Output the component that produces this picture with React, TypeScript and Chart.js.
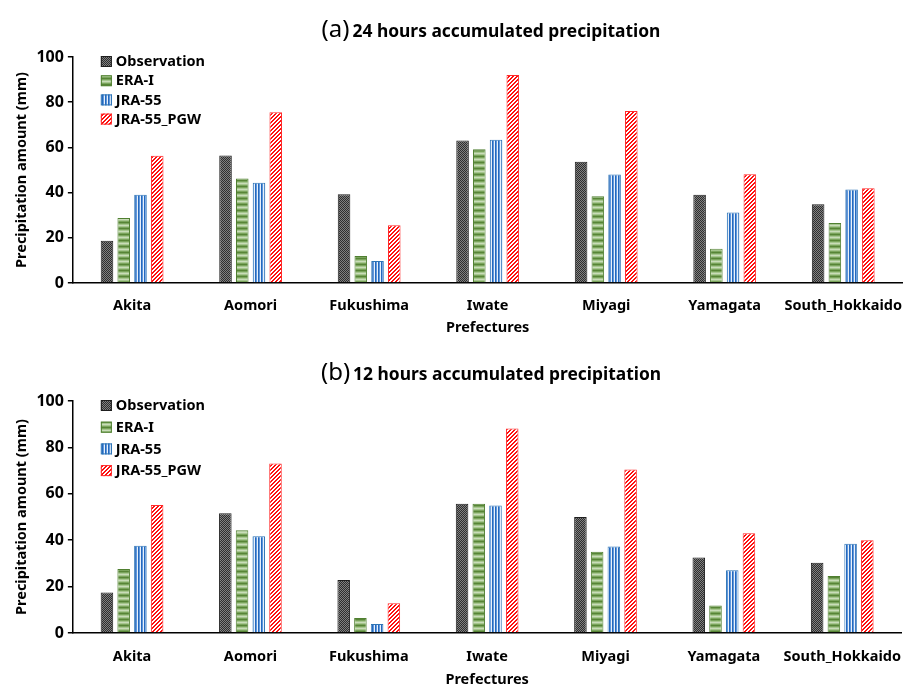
import { useEffect, useRef } from "react";
import { Chart, registerables } from "chart.js";

Chart.register(...registerables);

// Categories, series names and axis ticks
const prefectures = ["Akita", "Aomori", "Fukushima", "Iwate", "Miyagi", "Yamagata", "South_Hokkaido"];
const seriesNames = ["Observation", "ERA-I", "JRA-55", "JRA-55_PGW"];
const yTicks = [0, 20, 40, 60, 80, 100];

// (a) 24 hours accumulated precipitation (mm)
const obs24 = [18.7, 56.4, 39.3, 63.1, 53.7, 39.0, 34.9];
const era24 = [28.8, 46.2, 12.0, 59.2, 38.4, 15.1, 26.6];
const jra24 = [39.1, 44.4, 9.7, 63.4, 48.0, 31.2, 41.4];
const pgw24 = [56.3, 75.6, 25.6, 92.0, 76.1, 48.1, 41.9];

// (b) 12 hours accumulated precipitation (mm)
const obs12 = [17.5, 51.6, 22.8, 55.7, 50.0, 32.5, 30.3];
const era12 = [27.6, 44.3, 6.5, 55.7, 35.0, 11.8, 24.6];
const jra12 = [37.6, 41.7, 3.9, 55.0, 37.3, 27.0, 38.5];
const pgw12 = [55.2, 73.1, 12.8, 88.2, 70.5, 43.0, 40.0];

const FONT = '"Noto Sans", "DejaVu Sans", sans-serif';

function tile(w: number, h: number, paint: (x: number, y: number) => string) {
  const c = document.createElement("canvas");
  c.width = w;
  c.height = h;
  const g = c.getContext("2d")!;
  for (let y = 0; y < h; y++) {
    for (let x = 0; x < w; x++) {
      g.fillStyle = paint(x, y);
      g.fillRect(x, y, 1, 1);
    }
  }
  return c;
}

function makeFills(ctx: CanvasRenderingContext2D) {
  const checker = tile(2, 2, (x, y) => ((x + y) % 2 === 0 ? "#2e2e2e" : "#808080"));
  const eraRows = ["#578536", "#7aa45c", "#a6c68e", "#c9dcb9", "#a6c68e", "#7aa45c"];
  const hStripes = tile(1, 6, (_x, y) => eraRows[y]);
  const jraCols = ["#2468bd", "#5f98dc", "#e8f0fa"];
  const vStripes = tile(3, 1, (x) => jraCols[x]);
  const diag = tile(4, 4, (x, y) => ((x + y) % 4 < 2 ? "#ff0f0f" : "#ffffff"));
  return [
    { fill: ctx.createPattern(checker, "repeat")!, border: "#1e1e1e" },
    { fill: ctx.createPattern(hStripes, "repeat")!, border: "#4f7f30" },
    { fill: ctx.createPattern(vStripes, "repeat")!, border: "#2e75b6" },
    { fill: ctx.createPattern(diag, "repeat")!, border: "#ff2a2a" },
  ];
}

type PanelProps = {
  tag: string;
  heading: string;
  series: number[][];
  top: number;
  height: number;
  padTop: number;
  padBottom: number;
  xAxisHeight: number;
  xTickPad: number;
  legendStep: number;
};

function Panel(props: PanelProps) {
  const { tag, heading, series, top, height, padTop, padBottom, xAxisHeight, xTickPad, legendStep } = props;
  const ref = useRef<HTMLCanvasElement | null>(null);

  useEffect(() => {
    const canvas = ref.current!;
    const ctx = canvas.getContext("2d")!;
    const fills = makeFills(ctx);

    // Heading: "(a)" in regular weight followed by the bold title text
    const headingPlugin = {
      id: "heading",
      afterDraw(chart: Chart) {
        const c = chart.ctx;
        c.save();
        c.fillStyle = "#000";
        c.textBaseline = "alphabetic";
        const tagFont = `24px ${FONT}`;
        const headFont = `bold 17.4px ${FONT}`;
        c.font = tagFont;
        const wTag = c.measureText(tag).width;
        c.font = headFont;
        const wHead = c.measureText(heading).width;
        const gap = 3;
        const total = wTag + gap + wHead;
        const x0 = 491 - total / 2;
        const baseY = 37;
        c.font = tagFont;
        c.fillText(tag, x0, baseY);
        c.font = headFont;
        c.fillText(heading, x0 + wTag + gap, baseY);
        c.restore();
      },
    };

    // Legend inside the plot area, top-left
    const legendPlugin = {
      id: "innerLegend",
      afterDraw(chart: Chart) {
        const c = chart.ctx;
        const area = chart.chartArea;
        c.save();
        c.font = `bold 14.5px ${FONT}`;
        c.textBaseline = "middle";
        chart.data.datasets.forEach((ds: any, i: number) => {
          const cy = area.top + 4.5 + i * legendStep;
          const bx = area.left + 28;
          c.fillStyle = ds.backgroundColor;
          c.fillRect(bx, cy - 5.5, 11, 11);
          c.strokeStyle = ds.borderColor;
          c.lineWidth = 1;
          c.strokeRect(bx + 0.5, cy - 5, 10, 10);
          c.fillStyle = "#000";
          c.fillText(ds.label, bx + 15, cy + 0.5);
        });
        c.restore();
      },
    };

    const chart = new Chart(canvas, {
      type: "bar",
      data: {
        labels: prefectures,
        datasets: seriesNames.map((name, i) => ({
          label: name,
          data: series[i],
          backgroundColor: fills[i].fill as any,
          borderColor: fills[i].border,
          borderWidth: 1,
          categoryPercentage: 0.565,
          barPercentage: 0.75,
        })),
      },
      options: {
        responsive: false,
        animation: false,
        events: [],
        layout: { padding: { left: 2, right: 0, top: padTop, bottom: padBottom } },
        plugins: {
          legend: { display: false },
          title: { display: false },
          tooltip: { enabled: false },
        },
        scales: {
          x: {
            afterFit: (scale: any) => {
              scale.height = xAxisHeight;
            },
            grid: { display: false, drawTicks: false, tickLength: 0 },
            border: { display: true, color: "#000", width: 1.5 },
            ticks: {
              color: "#000",
              padding: xTickPad,
              autoSkip: false,
              maxRotation: 0,
              minRotation: 0,
              font: { family: FONT, size: 14.5, weight: "bold" },
            },
            title: {
              display: true,
              text: "Prefectures",
              color: "#000",
              font: { family: FONT, size: 14.5, weight: "bold" },
              padding: { top: 4, bottom: 0 },
            },
          },
          y: {
            min: 0,
            max: 100,
            afterBuildTicks: (scale: any) => {
              scale.ticks = yTicks.map((v) => ({ value: v }));
            },
            grid: { drawOnChartArea: false, drawTicks: true, tickLength: 5, color: "#000", lineWidth: 1.5 },
            border: { display: true, color: "#000", width: 1.5 },
            ticks: { color: "#000", padding: 4, font: { family: FONT, size: 16, weight: "bold" } },
            title: {
              display: true,
              text: "Precipitation amount (mm)",
              color: "#000",
              font: { family: FONT, size: 14.5, weight: "bold" },
              padding: { top: 11, bottom: 2 },
            },
          },
        },
      },
      plugins: [headingPlugin, legendPlugin],
    });

    return () => chart.destroy();
  }, [tag, heading, series, padTop, padBottom, xAxisHeight, xTickPad, legendStep]);

  return (
    <canvas
      ref={ref}
      width={916}
      height={height}
      style={{ position: "absolute", left: 0, top, width: 916, height, display: "block" }}
    />
  );
}

export default function App() {
  return (
    <div
      style={{
        position: "absolute",
        left: 0,
        top: 0,
        width: 916,
        height: 687,
        overflow: "hidden",
        background: "#fff",
      }}
    >
      <Panel
        tag="(a)"
        heading="24 hours accumulated precipitation"
        series={[obs24, era24, jra24, pgw24]}
        top={0}
        height={343}
        padTop={57}
        padBottom={6.3}
        xAxisHeight={53.7}
        xTickPad={14}
        legendStep={19.2}
      />
      <Panel
        tag="(b)"
        heading="12 hours accumulated precipitation"
        series={[obs12, era12, jra12, pgw12]}
        top={343}
        height={350}
        padTop={58}
        padBottom={4.3}
        xAxisHeight={55.7}
        xTickPad={15}
        legendStep={21.7}
      />
    </div>
  );
}
